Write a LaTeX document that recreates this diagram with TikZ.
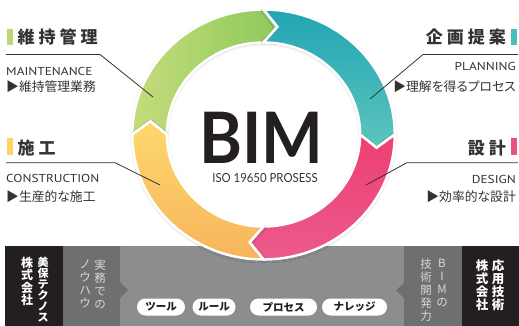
\documentclass[tikz,border=0pt]{standalone}
\usepackage{fontspec}
\setmainfont{Noto Sans CJK JP}
\newfontfamily\jp{Noto Sans CJK JP}
\newfontfamily\jpp[RawFeature=+palt]{Noto Sans CJK JP}
\newfontfamily\latob[FakeStretch=0.92]{Lato}
\newfontfamily\latoc[FakeStretch=0.91]{Lato}
\newfontfamily\dinf[FakeStretch=1.16]{PT Sans}
\usetikzlibrary{shadows.blur}
\definecolor{txt}{HTML}{333333}
\definecolor{gA}{HTML}{C6DC7C}
\definecolor{gB}{HTML}{8DC95B}
\definecolor{tA}{HTML}{22A5B3}
\definecolor{tB}{HTML}{5CC5BE}
\definecolor{pA}{HTML}{EE3F73}
\definecolor{pB}{HTML}{EB5A8B}
\definecolor{yA}{HTML}{FDD86C}
\definecolor{yB}{HTML}{F8B45D}
\definecolor{barG}{HTML}{BCD870}
\definecolor{barT}{HTML}{4DBFB8}
\definecolor{barY}{HTML}{FBD46A}
\definecolor{barP}{HTML}{E8537F}
\definecolor{blk}{HTML}{231F20}
\definecolor{dgray}{HTML}{6E6F71}
\definecolor{mgray}{HTML}{8C8D8F}
\definecolor{lgtxt}{HTML}{D8D8D8}
\begin{document}
\begin{tikzpicture}[x=1pt,y=-1pt,
  seg/.style={draw=white, line width=2.5pt, line join=miter,
    blur shadow={shadow xshift=0pt, shadow yshift=-1pt, shadow blur radius=2.5pt, shadow opacity=30}},
  head/.style={font=\jp\bfseries\fontsize{17}{17}\selectfont, text=txt, inner sep=0pt},
  sub/.style={font=\dinf\fontsize{11.5}{12}\selectfont, text=txt, inner sep=0pt},
  desc/.style={font=\jpp\fontsize{12.8}{13}\selectfont, text=txt, inner sep=0pt},
  leader/.style={draw=txt, line width=0.8pt},
  vtb/.style={font=\jp\bfseries\fontsize{11}{11}\selectfont, text=white, inner sep=0pt, align=center, anchor=north},
  vtl/.style={font=\jp\fontsize{11.5}{13}\selectfont, text=lgtxt, inner sep=0pt, align=center, anchor=north},
  pill/.style={fill=white, rounded corners=8.5pt, minimum height=17pt, inner sep=0pt,
    font=\jp\bfseries\fontsize{10.5}{10.5}\selectfont, text=blk},
]
\useasboundingbox (0,0) rectangle (519,326);

% ---------- bottom band ----------
\fill[mgray] (120,246) rectangle (404,326);
\fill[dgray] (63,246) -- (120,246) -- (120,282) -- (128,290) -- (120,298) -- (120,326) -- (63,326) -- cycle;
\fill[dgray] (404,246) -- (462,246) -- (462,326) -- (404,326) -- (404,298) -- (396,290.5) -- (404,283) -- cycle;
\fill[blk] (5,246) rectangle (63,326);
\fill[blk] (462,246) rectangle (519,326);

% ---------- ring ----------
\begin{scope}[shift={(263.5,134.5)}, xscale=1.05]
  \path[seg, left color=gA, right color=gB]
    (180:125) arc[start angle=180, end angle=270, radius=125] -- (277:108.5) --
    (270:92) arc[start angle=270, end angle=180, radius=92] -- (187:108.5) -- cycle;
  \path[seg, top color=tA, bottom color=tB]
    (270:125) arc[start angle=270, end angle=360, radius=125] -- (367:108.5) --
    (360:92) arc[start angle=360, end angle=270, radius=92] -- (277:108.5) -- cycle;
  \path[seg, top color=pA, bottom color=pB]
    (0:125) arc[start angle=0, end angle=90, radius=125] -- (97:108.5) --
    (90:92) arc[start angle=90, end angle=0, radius=92] -- (7:108.5) -- cycle;
  \path[seg, top color=yA, bottom color=yB]
    (90:125) arc[start angle=90, end angle=180, radius=125] -- (187:108.5) --
    (180:92) arc[start angle=180, end angle=90, radius=92] -- (97:108.5) -- cycle;
\end{scope}

% ---------- centre ----------
\node[font=\latob\bfseries\fontsize{71}{71}\selectfont, text=blk, inner sep=0pt, anchor=base] (bim) at (261.5,163) {BIM};
\node[font=\latoc\fontsize{12.5}{12.5}\selectfont, text=txt, inner sep=0pt, anchor=base] (iso) at (265,182) {ISO 19650 PROSESS};

% ---------- colour bars ----------
\fill[barG] (7,29) rectangle (13,45);
\fill[barT] (511,29) rectangle (517,45);
\fill[barY] (7,138) rectangle (13,155);
\fill[barP] (511,138) rectangle (517,155);

% ---------- labels ----------
\node[head, anchor=base west] (h1) at (17.5,43.5) {維\kern4pt 持\kern4pt 管\kern4pt 理};
\node[sub, anchor=base west] (s1) at (6,76) {MAINTENANCE};
\node[desc, anchor=base west] (d1) at (6,92) {▶維持管理業務};

\node[head, anchor=base east] (h2) at (506,43.5) {企\kern4pt 画\kern4pt 提\kern4pt 案};
\node[sub, anchor=base east] (s2) at (516,71) {PLANNING};
\node[desc, anchor=base east] (d2) at (516,92) {▶理解を得るプロセス};

\node[head, anchor=base west] (h3) at (17.5,154) {施\kern4pt 工};
\node[sub, anchor=base west] (s3) at (6,182) {CONSTRUCTION};
\node[desc, anchor=base west] (d3) at (6,201.5) {▶生産的な施工};

\node[head, anchor=base east] (h4) at (506,154) {設\kern4pt 計};
\node[sub, anchor=base east] (s4) at (516,183) {DESIGN};
\node[desc, anchor=base east] (d4) at (516,201.5) {▶効率的な設計};

% ---------- leader lines ----------
\coordinate (l1a) at (6,54.5);   \coordinate (l1b) at (100,54.5);  \coordinate (l1c) at (153,97);
\coordinate (r1a) at (518,54.5); \coordinate (r1b) at (423,54.5);  \coordinate (r1c) at (370,99);
\coordinate (l2a) at (6,162.7);  \coordinate (l2b) at (115,162.7); \coordinate (l2c) at (160,185);
\coordinate (r2a) at (518,162.7);\coordinate (r2b) at (407,162.7); \coordinate (r2c) at (366,185);
\draw[leader] (l1a) -- (l1b) -- (l1c);
\draw[leader] (r1a) -- (r1b) -- (r1c);
\draw[leader] (l2a) -- (l2b) -- (l2c);
\draw[leader] (r2a) -- (r2b) -- (r2c);

% ---------- vertical texts ----------
\node[vtb] (c1a) at (43,257) {美\\保\\テ\\ク\\ノ\\ス};
\node[vtb, font=\jp\bfseries\fontsize{12}{12.5}\selectfont] (c1b) at (27,257) {株\\式\\会\\社};
\node[vtl] (k1a) at (100,260) {実\\務\\で\\の};
\node[vtl] (k1b) at (85,260) {ノ\\ウ\\ハ\\ウ};
\node[vtl] (k2a) at (442,259) {B\\I\\M\\の};
\node[vtl] (k2b) at (426,259) {技\\術\\開\\発\\力};
\node[vtb, font=\jp\bfseries\fontsize{12.5}{13}\selectfont] (c2a) at (498,260) {応\\用\\技\\術};
\node[vtb, font=\jp\bfseries\fontsize{12.5}{13}\selectfont] (c2b) at (482,260) {株\\式\\会\\社};

% ---------- pills ----------
\node[pill, minimum width=48pt] (p1) at (161,307) {ツール};
\node[pill, minimum width=43pt] (p2) at (214,307) {ルール};
\node[pill, minimum width=67pt] (p3) at (283.5,307) {プロセス};
\node[pill, minimum width=65pt] (p4) at (354.5,307) {ナレッジ};
\end{tikzpicture}
\end{document}
